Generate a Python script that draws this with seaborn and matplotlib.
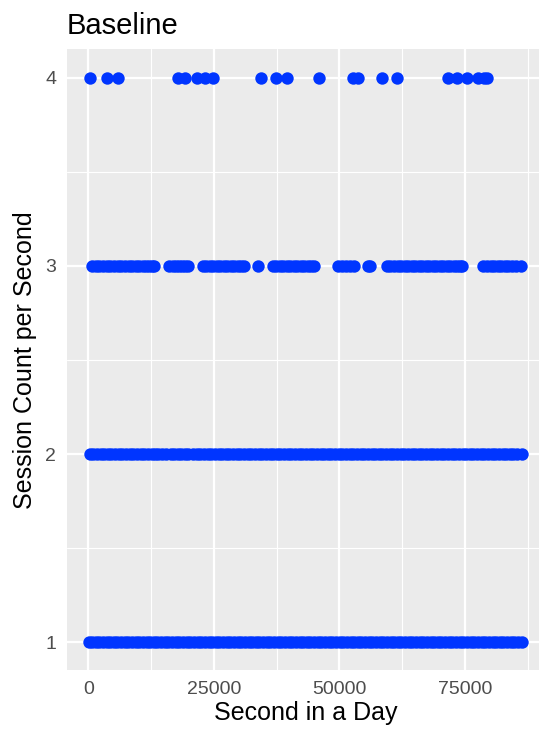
import matplotlib
matplotlib.use("Agg")
import matplotlib.pyplot as plt
from matplotlib.ticker import MultipleLocator
import seaborn as sns
import pandas as pd

# seconds of the day at which each session count was observed
count1_sec = [60, 820, 1450, 2210, 2900, 3640, 4380, 5090, 5800, 6550,
              7260, 7990, 8700, 9410, 10150, 10880, 11600, 12330, 13050,
              13760, 14480, 15200, 15940, 16690, 17400, 18120, 18850, 19580,
              20300, 21010, 21740, 22480, 23200, 23930, 24650, 25370, 26100,
              26820, 27540, 28270, 29000, 29730, 30450, 31160, 31900, 32640,
              33350, 34070, 34800, 35510, 36240, 36980, 37700, 38420, 39150,
              39880, 40600, 41330, 42050, 42760, 43500, 44220, 44940, 45670,
              46400, 47120, 47850, 48580, 49300, 50010, 50750, 51480, 52200,
              52910, 53640, 54380, 55100, 55820, 56550, 57270, 58000, 58730,
              59450, 60170, 60900, 61610, 62340, 63080, 63800, 64520, 65250,
              65980, 66700, 67420, 68150, 68880, 69600, 70310, 71040, 71780,
              72500, 73220, 73950, 74680, 75400, 76120, 76850, 77580, 78300,
              79010, 79740, 80480, 81200, 81930, 82650, 83370, 84100, 84830,
              85550, 86350]
count2_sec = [300, 1020, 1700, 2430, 3150, 3880, 4600, 5320, 6050, 6780,
              7500, 8230, 8950, 9670, 10400, 11120, 11850, 12580, 13300,
              13950, 14600, 15500, 16400, 17100, 17800, 18520, 19250, 19900,
              20900, 21600, 22300, 23030, 23750, 24480, 25200, 25920, 26650,
              27380, 28100, 28830, 29550, 30270, 31000, 31730, 32450, 33180,
              33900, 34620, 35350, 36080, 36800, 37520, 38250, 38980, 39700,
              40430, 41150, 41880, 42600, 43320, 44050, 44780, 45500, 46230,
              46950, 47680, 48400, 49120, 49850, 50580, 51300, 52030, 52750,
              53480, 54200, 54920, 55650, 56380, 57100, 57830, 58550, 59270,
              60000, 60730, 61450, 62180, 62900, 63620, 64350, 65080, 65800,
              66530, 67250, 67980, 68700, 69420, 70150, 70880, 71600, 72330,
              73050, 73780, 74500, 75230, 75950, 76680, 77400, 78120, 78850,
              79580, 80300, 81030, 81750, 82480, 83200, 83920, 84650, 85380,
              86250]
count3_sec = [740, 1480, 2200, 2930, 3650, 4380, 5100, 5830, 6550, 7270,
              8000, 8720, 9450, 10180, 10900, 11450, 12000, 12580, 13130,
              16110, 16800, 17500, 18050, 18600, 19200, 19770,
              22750, 23480, 24200, 24900, 25600, 26300, 27000, 27700, 28400,
              29050, 29700, 30380, 31030,
              33690,
              36670, 37380, 38100, 38800, 39500, 40200, 40900, 41600, 42300,
              42980, 43650, 44300, 44950,
              49800, 50550, 51300, 52100, 52900,
              55600, 56100,
              59410, 60150, 60900, 61600, 62300, 63000, 63700, 64400, 65100,
              65800, 66500, 67200, 67900, 68600, 69300, 70000, 70700, 71400,
              72100, 72750, 73400, 73950, 74470,
              78640, 79370, 80100, 80800, 81500, 82200, 82900, 83650, 84400,
              85230, 86060]
count4_sec = [400, 3720, 5970, 17780, 19230, 21620, 23210, 24740, 34350,
              37330, 39650, 45950, 52780, 53780, 58550, 61530, 71680, 73470,
              75460, 77580, 78770, 79430]

x_ticks = [0, 25000, 50000, 75000]
y_ticks = [1, 2, 3, 4]

df = pd.DataFrame({
    "second": count1_sec + count2_sec + count3_sec + count4_sec,
    "count": [1] * len(count1_sec) + [2] * len(count2_sec)
             + [3] * len(count3_sec) + [4] * len(count4_sec),
})

sns.set_style("darkgrid", {
    "axes.facecolor": "#EBEBEB",
    "grid.color": "white",
    "axes.edgecolor": "#EBEBEB",
})
plt.rcParams["font.family"] = ["Liberation Sans", "DejaVu Sans"]

fig = plt.figure(figsize=(5.39, 7.35), dpi=100)
ax = fig.add_axes([0.1237, 0.0878, 0.8855, 0.8449])

sns.scatterplot(data=df, x="second", y="count", color="#0035FF",
                s=80, linewidth=0, ax=ax, zorder=3)

ax.set_xlim(-4320, 90720)
ax.set_ylim(0.85, 4.15)
ax.set_xticks(x_ticks)
ax.set_yticks(y_ticks)
ax.xaxis.set_minor_locator(MultipleLocator(12500))
ax.yaxis.set_minor_locator(MultipleLocator(0.5))
ax.grid(which="major", color="white", linewidth=1.6)
ax.grid(which="minor", color="white", linewidth=0.8)
ax.set_axisbelow(True)
for s in ax.spines.values():
    s.set_visible(False)

ax.tick_params(axis="both", which="major", length=4.5, width=1.3,
               color="#333333", labelcolor="#4D4D4D", labelsize=14, pad=3)
ax.tick_params(axis="both", which="minor", length=0)

ax.set_xlabel("Second in a Day", fontsize=18, color="black", labelpad=2)
ax.set_ylabel("Session Count per Second", fontsize=18, color="black", labelpad=6)
ax.set_title("Baseline", fontsize=21, loc="left", pad=11, color="black")

fig.savefig("out.png", dpi=100)
